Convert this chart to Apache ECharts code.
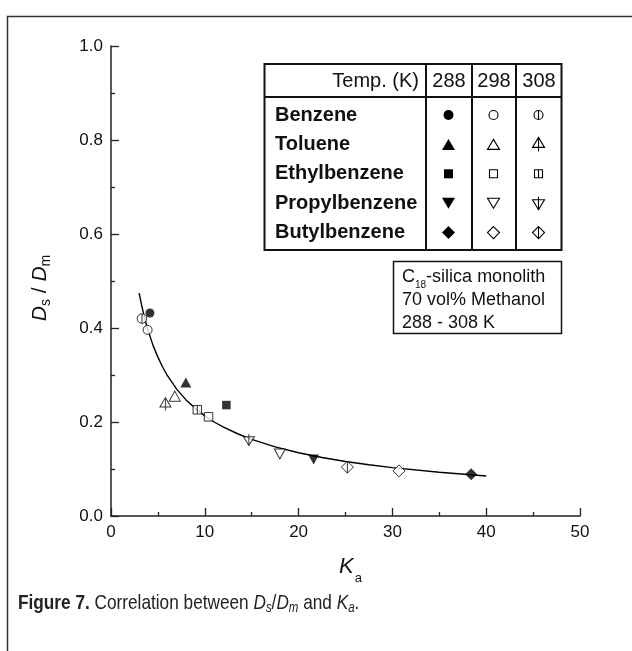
<!DOCTYPE html>
<html><head><meta charset="utf-8">
<script src="https://cdn.jsdelivr.net/npm/echarts@6/dist/echarts.min.js"></script>
<style>html,body{margin:0;padding:0;background:#fff}#c{width:632px;height:651px}</style>
</head><body><div id="c"></div>
<script>
// ---------- data ----------
const solutes = ['Benzene', 'Toluene', 'Ethylbenzene', 'Propylbenzene', 'Butylbenzene'];
const temps = ['288', '298', '308'];
const ka288 = [4.15, 7.98, 12.3, 21.6, 38.4];
const ds288 = [0.432, 0.284, 0.236, 0.120, 0.089];
const ka298 = [3.9, 6.8, 10.4, 18.0, 30.7];
const ds298 = [0.396, 0.255, 0.211, 0.132, 0.096];
const ka308 = [3.3, 5.8, 9.2, 14.7, 25.2];
const ds308 = [0.420, 0.238, 0.226, 0.162, 0.104];
// fitted curve at these Ka values
const fitKa = [3.0, 3.25, 3.5, 3.75, 4, 4.5, 5, 5.5, 6, 7, 8, 9, 10, 11, 12, 13.5, 15, 17.5, 20, 22.5, 25, 27.5, 30, 35, 40];
const fitDs = [0.474, 0.450, 0.428, 0.409, 0.392, 0.362, 0.338, 0.317, 0.299, 0.270, 0.247, 0.229, 0.213, 0.200, 0.189, 0.175, 0.163, 0.147, 0.1345, 0.1245, 0.116, 0.109, 0.103, 0.093, 0.085];
const xTickLabels = ['0', '10', '20', '30', '40', '50'];
const yTickLabels = ['0.0', '0.2', '0.4', '0.6', '0.8', '1.0'];
const infoLines = ['-silica monolith', '70 vol% Methanol', '288 - 308 K'];

// ---------- styles ----------
const FONT = "'Liberation Sans', Arial, sans-serif";
const INK = '#111';
const shapeOf = ['circle', 'tri', 'square', 'dtri', 'diamond'];
const PATH = {
  circle: 'M5 0A5 5 0 1 1 5 10A5 5 0 1 1 5 0Z',
  tri: 'M5 0L10 10L0 10Z',
  square: 'M0 0L10 0L10 10L0 10Z',
  dtri: 'M0 0L10 0L5 10Z',
  diamond: 'M5 0L10 5L5 10L0 5Z'
};
const PATH308 = {
  circle: 'M5 0A5 5 0 1 1 5 10A5 5 0 1 1 5 0Z M5 0L5 10',
  tri: 'M5 0L10 10L0 10Z M5 0L5 14',
  square: 'M0 0L10 0L10 10L0 10Z M5 0L5 10',
  dtri: 'M0 3L10 3L5 13Z M5 0L5 13',
  diamond: 'M5 0L10 5L5 10L0 5Z M5 0L5 10'
};
const plotSize = {circle: [9, 9], tri: [11, 10], square: [8.5, 8.5], dtri: [11, 10], diamond: [12, 12]};
const plotSize308 = {circle: [9.5, 9.5], tri: [11, 13], square: [8.5, 8.5], dtri: [11, 11.5], diamond: [12, 12]};

function pts(ka, ds, paths, sizes) {
  return ka.map((k, i) => ({
    value: [k, ds[i]],
    symbol: 'path://' + paths[shapeOf[i]],
    symbolSize: sizes[shapeOf[i]]
  }));
}

// ---------- legend table (graphic) ----------
const T = {x0: 264.5, x1: 561.5, y0: 64, y1: 250, yh: 97, cols: [426, 472, 516]};
const colCx = [449, 494, 539];
const rowCy = solutes.map((s, i) => 115 + i * 29.4);
const LSIZE = {circle: [10, 10], tri: [13, 11], square: [9, 9], dtri: [13, 11], diamond: [13, 13]};

function legendMarker(shape, v, cx, cy) {
  const st = {fill: v === 0 ? '#000' : '#fff', stroke: '#000', lineWidth: v === 0 ? 0 : 1.1};
  const els = [];
  let [w, h] = LSIZE[shape];
  if (v > 0) { w -= 1; h -= 1; }
  let ccy = cy, lineTop = null, lineBot = null;
  if (v === 2) {
    if (shape === 'tri') { ccy = cy - 2; lineTop = ccy - h / 2; lineBot = ccy + h / 2 + 4; }
    else if (shape === 'dtri') { ccy = cy + 1.5; lineTop = ccy - h / 2 - 3; lineBot = ccy + h / 2; }
    else { lineTop = cy - h / 2; lineBot = cy + h / 2; }
  }
  const L = cx - w / 2, R = cx + w / 2, Tp = ccy - h / 2, B = ccy + h / 2;
  if (shape === 'circle') els.push({type: 'circle', shape: {cx, cy: ccy, r: w / 2}, style: st});
  else {
    let p;
    if (shape === 'tri') p = [[cx, Tp], [R, B], [L, B]];
    if (shape === 'square') p = [[L, Tp], [R, Tp], [R, B], [L, B]];
    if (shape === 'dtri') p = [[L, Tp], [R, Tp], [cx, B]];
    if (shape === 'diamond') p = [[cx, Tp], [R, ccy], [cx, B], [L, ccy]];
    els.push({type: 'polygon', shape: {points: p}, style: st});
  }
  if (lineTop !== null) els.push({type: 'line', shape: {x1: cx, y1: lineTop, x2: cx, y2: lineBot}, style: {stroke: '#000', lineWidth: 1.1}});
  return els;
}

const graphics = [];
// outer frame (partial)
graphics.push({type: 'polyline', shape: {points: [[7.5, 651], [7.5, 16.5], [632, 16.5]]}, style: {stroke: '#333', lineWidth: 1.5, fill: null}});
// table
graphics.push({type: 'rect', shape: {x: T.x0, y: T.y0, width: T.x1 - T.x0, height: T.y1 - T.y0}, style: {fill: '#fff', stroke: INK, lineWidth: 2}, z: 10});
graphics.push({type: 'line', shape: {x1: T.x0, y1: T.yh, x2: T.x1, y2: T.yh}, style: {stroke: INK, lineWidth: 2}, z: 11});
T.cols.forEach(x => graphics.push({type: 'line', shape: {x1: x, y1: T.y0, x2: x, y2: T.y1}, style: {stroke: INK, lineWidth: 2}, z: 11}));
graphics.push({type: 'text', x: 419, y: 81.5, z: 11, style: {text: 'Temp. (K)', font: '20px ' + FONT, fill: INK, textAlign: 'right', textVerticalAlign: 'middle'}});
temps.forEach((t, j) => graphics.push({type: 'text', x: colCx[j], y: 81.5, z: 11, style: {text: t, font: '20px ' + FONT, fill: INK, textAlign: 'center', textVerticalAlign: 'middle'}}));
solutes.forEach((s, i) => {
  graphics.push({type: 'text', x: 275, y: rowCy[i], z: 11, style: {text: s, font: 'bold 20px ' + FONT, fill: INK, textAlign: 'left', textVerticalAlign: 'middle'}});
  temps.forEach((t, j) => legendMarker(shapeOf[i], j, colCx[j] - 0.5, rowCy[i]).forEach(e => { e.z = 12; graphics.push(e); }));
});
// info box
graphics.push({type: 'rect', shape: {x: 393.5, y: 261.5, width: 168, height: 72}, style: {fill: '#fff', stroke: INK, lineWidth: 1.5}, z: 10});
graphics.push({type: 'text', x: 402, y: 277, z: 11, style: {
  text: '{m|C}{s|18}{m|' + infoLines[0] + '}', textAlign: 'left', textVerticalAlign: 'middle',
  rich: {m: {fontSize: 18, fontFamily: FONT, fill: INK, verticalAlign: 'middle'}, s: {fontSize: 10, fontFamily: FONT, fill: INK, padding: [16, 0, 0, 0], verticalAlign: 'middle'}}
}});
graphics.push({type: 'text', x: 402, y: 300, z: 11, style: {text: infoLines[1], font: '18px ' + FONT, fill: INK, textAlign: 'left', textVerticalAlign: 'middle'}});
graphics.push({type: 'text', x: 402, y: 323, z: 11, style: {text: infoLines[2], font: '18px ' + FONT, fill: INK, textAlign: 'left', textVerticalAlign: 'middle'}});
// axis titles
graphics.push({type: 'text', x: 40, y: 288, rotation: Math.PI / 2, style: {
  text: '{i|D}{s|s}{r| / }{i|D}{s|m}', textAlign: 'center', textVerticalAlign: 'middle',
  rich: {
    i: {fontSize: 21, fontStyle: 'italic', fontFamily: FONT, fill: INK, verticalAlign: 'middle'},
    r: {fontSize: 21, fontFamily: FONT, fill: INK, verticalAlign: 'middle'},
    s: {fontSize: 14, fontFamily: FONT, fill: INK, padding: [12, 0, 0, 0], verticalAlign: 'middle'}
  }
}});
graphics.push({type: 'text', x: 350.5, y: 567, style: {
  text: '{i|K}{s|a}', textAlign: 'center', textVerticalAlign: 'middle',
  rich: {
    i: {fontSize: 22, fontStyle: 'italic', fontFamily: FONT, fill: INK, verticalAlign: 'middle'},
    s: {fontSize: 13, fontFamily: FONT, fill: INK, padding: [22, 0, 0, 1], verticalAlign: 'middle'}
  }
}});
// caption (condensed look via horizontal scale)
graphics.push({type: 'text', x: 18, y: 603, scaleX: 0.82, style: {
  text: '{b|Figure 7.}{r| Correlation between }{i|D}{is|s}{r|/}{i|D}{is|m}{r| and }{i|K}{is|a}{r|.}',
  textAlign: 'left', textVerticalAlign: 'middle',
  rich: {
    b: {fontSize: 21, fontWeight: 'bold', fontFamily: FONT, fill: '#222', verticalAlign: 'middle'},
    r: {fontSize: 21, fontFamily: FONT, fill: '#222', verticalAlign: 'middle'},
    i: {fontSize: 21, fontStyle: 'italic', fontFamily: FONT, fill: '#222', verticalAlign: 'middle'},
    is: {fontSize: 14, fontStyle: 'italic', fontFamily: FONT, fill: '#222', padding: [10, 0, 0, 0], verticalAlign: 'middle'}
  }
}});

// ---------- chart ----------
const chart = echarts.init(document.getElementById('c'), null, {renderer: 'canvas'});
const axisCommon = {
  type: 'value',
  axisLine: {show: true, onZero: false, lineStyle: {color: '#222', width: 1.5}},
  axisTick: {show: true, inside: true, length: 8, lineStyle: {color: '#222', width: 1.3}},
  minorTick: {show: true, splitNumber: 2, length: 4, lineStyle: {color: '#222', width: 1.3}},
  splitLine: {show: false},
  minorSplitLine: {show: false}
};
chart.setOption({
  animation: false,
  backgroundColor: '#fff',
  grid: {left: 111, right: 52, top: 46, bottom: 135, containLabel: false, outerBoundsMode: 'none'},
  xAxis: Object.assign({}, axisCommon, {
    min: 0, max: 50, interval: 10,
    axisLabel: {color: INK, fontSize: 17, fontFamily: FONT, margin: 8, formatter: v => xTickLabels[Math.round(v / 10)]}
  }),
  yAxis: Object.assign({}, axisCommon, {
    min: 0, max: 1, interval: 0.2,
    axisLabel: {color: INK, fontSize: 17, fontFamily: FONT, margin: 8, formatter: v => yTickLabels[Math.round(v / 0.2)]}
  }),
  series: [
    {type: 'line', data: fitKa.map((k, i) => [k, fitDs[i]]), showSymbol: false, smooth: false,
     lineStyle: {color: '#000', width: 1.4}, z: 1, silent: true},
    {type: 'scatter', name: temps[0], data: pts(ka288, ds288, PATH, plotSize), itemStyle: {color: '#000', borderWidth: 0}, z: 3},
    {type: 'scatter', name: temps[1], data: pts(ka298, ds298, PATH, plotSize), itemStyle: {color: '#fff', borderColor: '#000', borderWidth: 1}, z: 3},
    {type: 'scatter', name: temps[2], data: pts(ka308, ds308, PATH308, plotSize308), itemStyle: {color: '#fff', borderColor: '#000', borderWidth: 1}, z: 3}
  ],
  graphic: {elements: graphics}
});
</script></body></html>
